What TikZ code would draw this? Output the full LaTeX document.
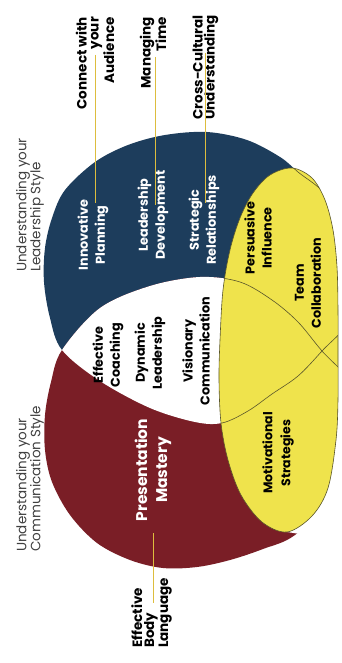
\documentclass[tikz,border=0pt]{standalone}
\usepackage{fontspec}
\setmainfont{Poppins}
\definecolor{navyC}{HTML}{1D3D5C}
\definecolor{maroonC}{HTML}{7A1E26}
\definecolor{yellowC}{HTML}{EFE34C}
\definecolor{edgeC}{HTML}{5A562A}
\definecolor{leadC}{HTML}{DDBD3E}
\definecolor{headC}{HTML}{404040}
\tikzset{
  venn/.style={rotate=90, align=center, inner sep=0pt, text=black,
    font=\bfseries\fontsize{12.8}{17}\selectfont},
  onblue/.style={venn, text=white},
  callout/.style={rotate=90, inner sep=0pt, text=black,
    font=\bfseries\fontsize{13.5}{12}\selectfont},
  heading/.style={rotate=90, align=left, inner sep=0pt, text=headC,
    font=\fontsize{13.5}{14}\selectfont},
  leader/.style={draw=leadC, line width=0.9pt},
  ring/.style={draw=edgeC, line width=0.6pt},
  bluepath/.style={insert path={plot[smooth cycle, tension=0.55] coordinates {
    (62,350) (50,318) (44,282) (45,248) (52,218) (65,190) (95,162) (128,145)
    (165,135) (207,132) (247,140) (280,157) (298,172) (330,200)
    (355,260) (358,310) (322,351) (298,376) (272,394) (248,411) (222,423)
    (195,422) (150,408) (100,381)}}},
  redpath/.style={insert path={plot[smooth cycle, tension=0.55] coordinates {
    (62,350) (100,308) (150,286) (200,277) (240,282) (272,300) (298,322)
    (322,351) (358,392) (356,440) (335,495) (295,535) (263,549)
    (230,560) (197,567) (163,568) (130,560) (97,543) (70,515) (52,482)
    (45,450) (45,415) (51,382)}}},
  yellowpath/.style={insert path={plot[smooth cycle, tension=0.55] coordinates {
    (292,168) (312,178) (325,200) (333,230) (337,267) (338,310) (338,355)
    (338,400) (336,440) (328,488) (312,516) (287,532) (262,522) (241,495)
    (228,460) (221,423) (219,380) (220,340) (223,290) (230,250) (240,218)
    (253,193) (270,175)}}}
}
\begin{document}
\begin{tikzpicture}[x=1pt,y=-1pt]
\useasboundingbox (0,0) rectangle (341,663);
\fill[white] (0,0) rectangle (341,663);
% the two large circles
\fill[navyC, bluepath];
\fill[maroonC, redpath];
\begin{scope}
  \clip[bluepath];
  \fill[white, redpath];
\end{scope}
% keep the page white right of the yellow oval
\fill[white] (370,176) -- (312,178) -- (325,200) -- (333,230) -- (337,267)
  -- (338,310) -- (338,355) -- (338,400) -- (336,440) -- (328,488)
  -- (312,516) -- (287,532) -- (370,545) -- cycle;
% yellow oval and the outlines seen through it
\fill[yellowC, yellowpath];
\begin{scope}
  \clip[yellowpath];
  \draw[ring, bluepath];
  \draw[ring, redpath];
\end{scope}
\draw[ring, yellowpath];
% headings
\node[heading, anchor=west] (lead) at (30,272) {Understanding your\\Leadership Style};
\node[heading, anchor=west] (comm) at (30,552) {Understanding your\\Communication Style};
% callouts
\node[callout, align=right, anchor=east] (conn) at (95,17) {Connect with\\your\\Audience};
\node[callout, align=right, anchor=east] (manag) at (153,17) {Managing\\Time};
\node[callout, align=right, anchor=east] (cross) at (205.5,15) {Cross-Cultural\\Understanding};
\node[callout, align=left, anchor=west] (body) at (151.5,648) {Effective\\Body\\Language};
% region labels
\node[onblue] (innov) at (93,235) {Innovative\\Planning};
\node[onblue] (ldev) at (153,215) {Leadership\\Development};
\node[onblue] (strat) at (204,220) {Strategic\\Relationships};
\node[venn] (persu) at (258,238) {Persuasive\\Influence};
\node[venn] (team) at (308,283) {Team\\Collaboration};
\node[venn] (coach) at (108,355) {Effective\\Coaching};
\node[venn] (dyn) at (150,353) {Dynamic\\Leadership};
\node[venn] (vis) at (196,351) {Visionary\\Communication};
\node[onblue, font=\bfseries\fontsize{15.5}{20}\selectfont] (pres) at (153,470) {Presentation\\Mastery};
\node[venn, font=\bfseries\fontsize{12.5}{18}\selectfont] (motiv) at (278,453) {Motivational\\Strategies};
% leader lines
\coordinate (l1) at (95,55);
\coordinate (l2) at (155,57);
\coordinate (l3) at (205,53);
\coordinate (l4) at (153,533);
\draw[leader] (l1) -- (l1 |- 0,203);
\draw[leader] (l2) -- (l2 |- 0,205);
\draw[leader] (l3) -- (l3 |- 0,203);
\draw[leader] (l4) -- (l4 |- 0,603);
\end{tikzpicture}
\end{document}
